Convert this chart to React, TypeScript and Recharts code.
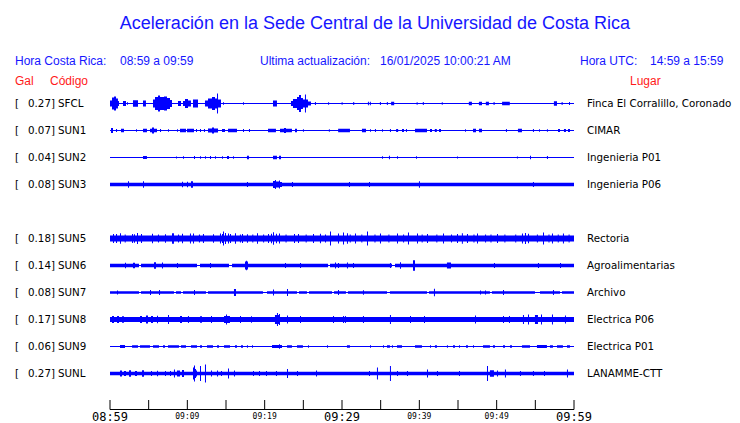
import React from 'react';
import { ComposedChart, Area, XAxis, YAxis } from 'recharts';

// ---------- data ----------
const STATION_CODES = ['SFCL', 'SUN1', 'SUN2', 'SUN3', 'SUN5', 'SUN6', 'SUN7', 'SUN8', 'SUN9', 'SUNL'];
const STATION_SLOTS = [0, 1, 2, 3, 5, 6, 7, 8, 9, 10];
const PEAK_GAL = ['0.27', '0.07', '0.04', '0.08', '0.18', '0.14', '0.08', '0.17', '0.06', '0.27'];
const PLACES = [
  'Finca El Corralillo, Coronado', 'CIMAR', 'Ingenieria P01', 'Ingenieria P06', 'Rectoria',
  'Agroalimentarias', 'Archivo', 'Electrica P06', 'Electrica P01', 'LANAMME-CTT',
];
// noise floor half-amplitude of each trace
const NOISE_FLOOR = [0.5, 0.5, 0.5, 1.7, 3.1, 1.7, 1.2, 2.4, 0.5, 1.7];

// bursts: [start minute, end minute, half amplitude]
type Burst = [number, number, number];
const SFCL: Burst[] = [
  [0, 0.26, 3], [0.26, 0.52, 6], [0.52, 0.78, 7], [0.78, 1.03, 5], [1.03, 1.16, 2.5],
  [1.68, 2.07, 2.5], [2.2, 2.33, 1.2], [2.97, 3.62, 3.2], [4.27, 4.65, 3],
  [5.56, 5.82, 4], [5.82, 6.21, 6.5], [6.21, 6.47, 8], [6.47, 6.98, 6.5], [6.98, 7.37, 7], [7.37, 7.76, 5.5], [7.76, 8.02, 3.5],
  [8.79, 9.18, 2.5], [9.44, 9.7, 2.5], [9.7, 10.09, 4.5], [10.09, 10.47, 3], [10.73, 11.38, 4],
  [12.28, 12.67, 3], [12.67, 13.19, 5], [13.19, 13.58, 6.5], [13.58, 13.84, 5], [13.84, 13.97, 10], [13.97, 14.35, 4],
  [14.61, 14.74, 1.2], [17.2, 17.33, 1.2], [21.08, 21.59, 3],
  [23.4, 23.66, 2.5], [23.66, 24.18, 4.5], [24.18, 24.44, 6.5], [24.44, 24.7, 8.5], [24.7, 24.95, 5.5], [24.95, 25.21, 4], [25.21, 25.34, 9], [25.34, 25.6, 4], [25.6, 25.99, 2],
  [26.5, 26.63, 1.5], [28.2, 28.33, 1.2], [29.95, 30.08, 1.2], [31.45, 31.58, 1.5], [33.35, 33.48, 1.8], [33.6, 33.73, 1.8],
  [34.9, 35.03, 1.5], [35.8, 35.93, 1.5], [36.35, 36.75, 1.8], [39.65, 39.78, 1.2], [40.45, 40.58, 1.5], [42.9, 43.03, 1.2],
  [46.4, 46.8, 1.8], [47.7, 48.1, 1.8], [48.6, 49.0, 1.8], [49.6, 49.73, 1.5], [50.7, 51.7, 1.8], [57.4, 57.8, 2.2],
  [58.4, 58.53, 1.5], [59.35, 59.48, 1.5],
];
const SUN1: Burst[] = [
  [0.13, 0.39, 2.5], [0.78, 0.91, 1.5], [1.42, 1.81, 1.8], [3.36, 3.49, 1.2], [4.27, 4.78, 1.8],
  [5.17, 5.43, 1.8], [5.43, 5.69, 3], [5.69, 6.08, 1.8], [6.47, 6.6, 1.5], [7.5, 7.63, 1.2], [8.66, 8.79, 1.2],
  [9.05, 9.83, 1.8], [9.96, 10.86, 1.8], [11.12, 11.25, 1.5], [11.64, 11.77, 1.5], [12.15, 12.28, 1.5],
  [12.67, 13.19, 2], [13.19, 13.45, 3], [13.45, 13.97, 2], [14.48, 14.87, 1.5], [15.26, 16.42, 1.8],
  [17.2, 17.33, 1.5], [17.97, 18.1, 1.5], [20.43, 21.46, 1.8], [21.98, 22.5, 1.8], [22.5, 22.76, 2.5], [22.76, 23.53, 1.8],
  [23.92, 24.18, 1.8], [24.95, 25.08, 1.2], [28.3, 28.43, 1.2], [29.5, 31.03, 1.8], [32.58, 33.1, 1.8],
  [33.62, 33.75, 1.2], [34.26, 34.39, 1.5], [35.17, 35.3, 1.2], [36.2, 36.33, 1.5], [37.0, 37.26, 1.5],
  [37.76, 38.02, 1.5], [38.27, 38.4, 1.5], [39.44, 40.99, 1.8], [41.38, 41.64, 1.5], [42.0, 42.26, 1.5],
  [42.54, 42.8, 1.5], [45.9, 46.03, 1.2], [46.94, 47.33, 1.8], [47.71, 48.1, 1.8], [51.2, 51.33, 1.5],
  [52.75, 53.27, 1.8], [54.69, 54.82, 1.5], [55.47, 55.6, 1.2], [56.5, 56.63, 1.2], [57.93, 58.19, 1.5],
  [58.7, 58.96, 1.5], [59.22, 59.48, 1.5],
];
const SUN2: Burst[] = [
  [4.27, 4.78, 1.5], [8.53, 8.66, 1], [9.44, 9.57, 1.2], [10.86, 10.99, 1.5], [11.64, 11.77, 1.2],
  [12.28, 12.41, 1.2], [12.93, 13.06, 1.5], [13.58, 13.71, 1.2], [14.48, 14.61, 1.2], [15.13, 15.39, 1.5],
  [15.9, 16.03, 1.2], [17.71, 17.97, 1.8], [21.08, 21.59, 1.8], [21.85, 22.11, 1.8], [35.17, 35.3, 1.2],
  [36.07, 36.2, 1.8], [37.11, 37.24, 1.2], [39.57, 39.7, 1.2], [44.87, 45.0, 1], [52.62, 52.75, 1],
  [54.31, 54.44, 1.8], [56.5, 56.63, 1.5],
];
const SUN3: Burst[] = [
  [2.33, 2.46, 3.2], [4.27, 4.4, 3.2], [9.31, 9.44, 2.8], [9.96, 10.09, 2.8], [10.47, 10.73, 3.2],
  [17.71, 17.84, 2.5], [21.08, 21.33, 3.5], [21.33, 21.46, 4.5], [21.46, 21.85, 3], [21.85, 21.98, 4],
  [21.98, 22.24, 2.5], [23.53, 23.66, 2.5], [30.9, 31.03, 2.5], [33.49, 33.62, 2.5], [39.95, 40.08, 3.2],
  [54.69, 54.82, 2.5],
];
const SUN5: Burst[] = [
  [0.39, 0.52, 4.5], [0.78, 0.91, 4.5], [1.29, 1.42, 5.2], [1.9, 2.03, 4], [2.85, 2.98, 4.5], [3.1, 3.23, 4.3],
  [3.49, 3.62, 5.5], [4.01, 4.14, 4.5], [5.43, 5.56, 4.8], [6.2, 6.33, 4], [7.11, 7.24, 4.3], [8.02, 8.27, 5.2],
  [8.8, 8.93, 4], [9.31, 9.44, 4.8], [10.34, 10.47, 5], [10.73, 10.86, 5], [11.5, 11.63, 4], [12.02, 12.15, 4.5],
  [13.32, 13.45, 4.3], [14.22, 14.35, 5], [14.48, 14.61, 4.5], [14.61, 14.74, 7], [14.87, 15.0, 5.5],
  [15.26, 15.39, 5], [15.52, 15.65, 4.5], [16.16, 16.29, 5.2], [16.8, 16.93, 4], [17.07, 17.2, 4.5],
  [17.71, 17.84, 4.3], [18.4, 18.53, 4], [19.01, 19.14, 5.2], [19.8, 19.93, 4], [20.43, 20.56, 4.5],
  [20.82, 20.95, 4.8], [21.08, 21.21, 6.3], [21.46, 21.59, 4.8], [21.85, 21.98, 5], [22.7, 22.83, 4],
  [23.79, 23.92, 4.5], [24.31, 24.44, 4.5], [25.3, 25.43, 4], [26.25, 26.38, 4.5], [27.15, 27.28, 4.8],
  [27.8, 27.93, 4], [28.45, 28.58, 7], [29.48, 29.61, 5], [30.13, 30.26, 6], [30.64, 30.77, 5.2],
  [31.0, 31.13, 4], [31.68, 31.81, 5], [32.5, 32.63, 4], [33.23, 33.36, 7], [34.2, 34.33, 4], [34.91, 35.04, 5],
  [36.0, 36.13, 4], [37.11, 37.24, 5], [37.9, 38.03, 4], [38.53, 38.66, 6], [39.7, 39.83, 5], [40.3, 40.43, 4],
  [40.99, 41.12, 4.5], [42.2, 42.33, 4], [43.06, 43.19, 5], [44.1, 44.23, 4], [44.87, 45.0, 4.5],
  [45.5, 45.63, 5.2], [46.16, 46.29, 4.5], [47.0, 47.13, 4], [47.46, 47.59, 5], [48.5, 48.63, 4],
  [49.2, 49.33, 4], [50.04, 50.17, 4.5], [51.0, 51.13, 4], [52.4, 52.53, 4], [53.27, 53.4, 5],
  [53.66, 53.79, 5.5], [54.05, 54.18, 4.8], [55.2, 55.33, 4], [55.99, 56.12, 6], [56.7, 56.83, 4],
  [57.15, 57.28, 5], [57.9, 58.03, 4], [58.57, 58.7, 5], [59.3, 59.43, 4],
];
const SUN6: Burst[] = [
  [3.75, 4.01, 0.6], [11.25, 11.64, 0.6], [15.39, 15.78, 0.6], [28.2, 28.45, 0.6], [36.46, 36.85, 0.6],
  [1.94, 2.07, 2.8], [2.97, 3.23, 2.8], [5.69, 5.95, 3.3], [6.72, 6.85, 3], [8.66, 8.79, 2.5],
  [12.93, 13.06, 2.5], [17.46, 17.84, 4], [17.59, 17.71, 4.8], [22.63, 22.76, 2.5], [24.57, 24.7, 2.5],
  [29.1, 29.23, 3], [29.48, 29.61, 2.5], [30.64, 30.77, 3], [31.42, 31.55, 2.5], [36.2, 36.33, 2.5],
  [37.5, 37.63, 3.3], [39.18, 39.44, 5.3], [43.57, 44.09, 3], [49.65, 49.78, 2.5], [55.34, 55.47, 2.5],
  [58.19, 58.32, 2.5],
];
const SUN7: Burst[] = [
  [3.75, 4.01, 0.5], [8.27, 8.53, 0.5], [9.18, 9.44, 0.5], [12.41, 12.67, 0.5], [19.78, 20.3, 0.5],
  [24.18, 24.44, 0.5], [25.47, 25.73, 0.5], [28.71, 28.97, 0.5], [30.51, 30.77, 0.5], [35.82, 36.2, 0.5],
  [40.99, 41.25, 0.5], [49.13, 49.39, 0.5], [54.95, 55.6, 0.5], [58.19, 58.45, 0.5],
  [0.91, 1.04, 2], [5.17, 5.3, 2.5], [6.34, 6.47, 2.5], [10.86, 10.99, 2.5], [16.03, 16.29, 3.5],
  [21.08, 21.21, 3], [22.89, 23.02, 3.5], [29.48, 29.61, 2.5], [32.71, 32.84, 2.3], [41.89, 42.02, 3.8],
  [47.84, 47.97, 2], [48.49, 48.62, 2], [50.82, 50.95, 2.5], [57.28, 57.41, 2.5],
];
const SUN8: Burst[] = [
  [0.26, 0.52, 3.5], [0.91, 1.16, 3.5], [1.55, 1.81, 3.2], [3.88, 4.14, 3.5], [4.65, 4.91, 4],
  [5.3, 5.56, 3.5], [6.08, 6.21, 3.8], [7.5, 7.63, 4.5], [9.05, 9.31, 3.5], [10.08, 10.21, 3.5],
  [11.64, 11.9, 3.2], [13.06, 13.19, 3.5], [14.74, 15.52, 3.5], [15.0, 15.13, 5], [16.81, 16.94, 3.5],
  [18.23, 18.36, 3.2], [21.33, 21.98, 4.5], [21.59, 21.72, 6.5], [21.85, 21.98, 5.5], [22.89, 23.02, 4],
  [24.57, 24.7, 3.5], [28.84, 28.97, 3.5], [30.13, 30.26, 3.5], [30.38, 30.51, 3.5], [32.71, 32.84, 3.5],
  [36.2, 36.33, 4.5], [38.79, 38.92, 3.5], [40.6, 40.73, 3.5], [47.2, 47.33, 4], [50.82, 50.95, 3.5],
  [51.59, 51.72, 3.5], [53.4, 53.53, 4.5], [54.05, 54.18, 5], [54.95, 55.34, 4.5], [55.73, 55.86, 5],
  [57.15, 57.28, 5], [58.83, 58.96, 4],
];
const SUN9: Burst[] = [
  [1.29, 1.94, 1.5], [2.85, 3.62, 1.2], [3.88, 5.17, 1.2], [5.56, 6.34, 1.2], [6.85, 7.11, 1.2],
  [7.5, 8.92, 1.2], [9.18, 9.83, 1.2], [10.47, 11.25, 1.2], [11.64, 11.9, 1.2], [12.54, 13.32, 1.2],
  [13.84, 14.1, 1.2], [14.74, 15.52, 1.2], [16.16, 16.42, 1.2], [16.94, 17.2, 1.2], [17.71, 17.84, 1.2],
  [18.36, 18.49, 1.2], [20.95, 22.24, 1.5], [21.85, 21.98, 2.2], [22.89, 23.53, 1.2], [24.18, 24.95, 1.2],
  [25.6, 25.73, 1.2], [28.06, 28.19, 1.2], [30.64, 31.03, 1.2], [33.62, 33.75, 1.2], [35.3, 35.43, 1.2],
  [35.82, 36.2, 1.2], [36.46, 36.59, 1.2], [37.11, 37.76, 1.2], [39.44, 40.34, 1.3], [41.38, 41.51, 1.2],
  [42.02, 42.28, 1.2], [43.57, 43.7, 1.2], [44.35, 44.61, 1.2], [45.13, 45.26, 1.2], [46.03, 46.29, 1.2],
  [46.94, 47.07, 1.2], [48.23, 49.13, 1.3], [49.52, 49.78, 1.2], [50.82, 51.08, 1.2], [51.72, 51.98, 1.2],
  [53.27, 54.31, 1.3], [55.21, 56.5, 1.4], [56.89, 57.28, 1.2], [57.8, 58.57, 1.2], [59.09, 59.48, 1.2],
];
const SUNL: Burst[] = [
  [1.29, 1.55, 3], [1.81, 2.07, 2.5], [2.46, 2.72, 3.3], [3.23, 3.49, 2.5], [4.14, 4.4, 3.3],
  [5.3, 5.43, 2.5], [6.08, 6.21, 2.8], [7.11, 7.24, 2.5], [7.76, 7.89, 2.5], [8.27, 8.4, 4],
  [8.66, 9.05, 3], [9.31, 9.57, 3.5], [10.73, 10.86, 6], [10.86, 10.99, 8], [10.99, 11.12, 4.5],
  [11.12, 11.25, 3], [11.64, 11.77, 7.5], [12.28, 12.41, 9], [13.06, 13.19, 3], [13.84, 13.97, 3],
  [14.35, 14.48, 2.5], [15.26, 15.39, 5], [16.03, 16.16, 3], [18.49, 18.62, 2.5], [19.27, 19.4, 2.5],
  [20.17, 20.3, 2.5], [21.46, 21.59, 2.5], [22.89, 23.02, 4.5], [24.18, 24.31, 2.5], [26.64, 26.77, 3],
  [33.49, 33.62, 2.5], [34.52, 34.65, 6], [36.2, 36.33, 7.5], [37.11, 37.24, 2.5], [38.4, 38.53, 2.5],
  [40.99, 41.12, 4], [42.28, 42.41, 2.5], [45.13, 45.26, 2.5], [48.75, 48.88, 7.5], [49.13, 49.65, 3.2],
  [50.04, 50.17, 3], [51.07, 51.2, 4], [53.01, 53.14, 2.5], [54.69, 54.82, 2.5], [56.12, 56.25, 2.5],
  [59.09, 59.22, 4],
];
const BURSTS: Burst[][] = [SFCL, SUN1, SUN2, SUN3, SUN5, SUN6, SUN7, SUN8, SUN9, SUNL];

const TIME_TICKS = [0, 5, 10, 15, 20, 25, 30, 35, 40, 45, 50, 55, 60];
const TIME_LABELS = ['08:59', '', '09:09', '', '09:19', '', '09:29', '', '09:39', '', '09:49', '', '09:59'];
const MAJOR_LABELS = ['08:59', '09:29', '09:59'];

// ---------- layout constants ----------
const ROW_PITCH = 27;
const N_SLOTS = 11;
const rowValue = (slot: number) => (N_SLOTS - 1 - slot) * ROW_PITCH;
const ROW_VALUES = STATION_SLOTS.map(rowValue);
const BLUE = '#1616ff';
const RED = '#ff1a1a';
const TRACE = '#0000ff';

// ---------- build table ----------
function ampAt(i: number, t: number): number {
  let a = -1;
  for (const [t0, t1, v] of BURSTS[i]) {
    if (t >= t0 && t < t1 && v > a) a = v;
  }
  return a < 0 ? NOISE_FLOOR[i] : a;
}
const breakSet = new Set<number>([0, 60]);
BURSTS.forEach((list) => list.forEach(([t0, t1]) => { breakSet.add(t0); breakSet.add(t1); }));
const BREAKS = Array.from(breakSet).sort((a, b) => a - b);
const TABLE = BREAKS.map((t) => {
  const row: Record<string, any> = { t };
  STATION_CODES.forEach((code, i) => {
    const a = ampAt(i, t >= 60 ? 59.999 : t);
    const c = ROW_VALUES[i];
    row[code] = [c - a, c + a];
  });
  return row;
});

const LeftTick = (props: any) => {
  const { y, payload } = props;
  const i = ROW_VALUES.indexOf(payload.value);
  if (i < 0) return <g />;
  return (
    <g fontFamily="DejaVu Sans" fontSize={10.3} fill="#000">
      <text x={15} y={y} dy={3.5}>[</text>
      <text x={55} y={y} dy={3.5} textAnchor="end">{PEAK_GAL[i]}]</text>
      <text x={58} y={y} dy={3.5}>{STATION_CODES[i]}</text>
    </g>
  );
};

const RightTick = (props: any) => {
  const { x, y, payload } = props;
  const i = ROW_VALUES.indexOf(payload.value);
  if (i < 0) return <g />;
  return (
    <text x={x + 13} y={y} dy={3.5} fontFamily="DejaVu Sans" fontSize={10.3} fill="#000">{PLACES[i]}</text>
  );
};

const TimeTick = (props: any) => {
  const { x, y, payload } = props;
  const i = TIME_TICKS.indexOf(payload.value);
  const label = TIME_LABELS[i] || '';
  const major = MAJOR_LABELS.includes(label);
  return (
    <g>
      <line x1={x} x2={x} y1={y - 9.5} y2={y} stroke="#000" strokeWidth={1} />
      {label && (
        <text
          x={x}
          y={y + (major ? 11.5 : 9)}
          textAnchor="middle"
          fontFamily="DejaVu Sans Mono"
          fontSize={major ? 12 : 8}
          fill="#000"
        >
          {label}
        </text>
      )}
    </g>
  );
};

export default function App() {
  return (
    <div style={{ position: 'absolute', left: 0, top: 0, width: 740, height: 423, background: '#fff' }}>
      <ComposedChart
        width={740}
        height={423}
        data={TABLE}
        margin={{ top: 80, right: 0, bottom: 0, left: 0 }}
      >
        <XAxis
          dataKey="t"
          type="number"
          domain={[0, 60]}
          ticks={TIME_TICKS}
          allowDataOverflow
          interval={0}
          height={13.5}
          axisLine={{ stroke: '#000', strokeWidth: 1 }}
          tickLine={false}
          tickSize={0}
          tickMargin={0}
          tick={<TimeTick />}
        />
        <YAxis
          yAxisId="L"
          type="number"
          domain={[-36, 293.5]}
          allowDataOverflow
          ticks={ROW_VALUES}
          interval={0}
          width={110}
          axisLine={false}
          tickLine={false}
          tick={<LeftTick />}
        />
        <YAxis
          yAxisId="R"
          orientation="right"
          type="number"
          domain={[-36, 293.5]}
          allowDataOverflow
          ticks={ROW_VALUES}
          interval={0}
          width={166}
          axisLine={false}
          tickLine={false}
          tickSize={0}
          tickMargin={0}
          tick={<RightTick />}
        />
        {STATION_CODES.map((code) => (
          <Area
            key={code}
            yAxisId="L"
            dataKey={code}
            type="stepAfter"
            stroke="none"
            fill={TRACE}
            fillOpacity={1}
            dot={false}
            activeDot={false}
            isAnimationActive={false}
          />
        ))}
      </ComposedChart>
      <svg
        width={740}
        height={100}
        style={{ position: 'absolute', left: 0, top: 0, pointerEvents: 'none' }}
      >
        <text x={375} y={29} textAnchor="middle" fontFamily="Liberation Sans" fontSize={18} fill={BLUE}>
          Aceleración en la Sede Central de la Universidad de Costa Rica
        </text>
        <g fontFamily="Liberation Sans" fontSize={12} fill={BLUE}>
          <text x={15} y={65}>Hora Costa Rica:</text>
          <text x={120} y={65}>08:59 a 09:59</text>
          <text x={260} y={65}>Ultima actualización:</text>
          <text x={380} y={65}>16/01/2025 10:00:21 AM</text>
          <text x={580} y={65}>Hora UTC:</text>
          <text x={650} y={65}>14:59 a 15:59</text>
        </g>
        <g fontFamily="Liberation Sans" fontSize={12} fill={RED}>
          <text x={15} y={85}>Gal</text>
          <text x={50} y={85}>Código</text>
          <text x={630} y={85}>Lugar</text>
        </g>
      </svg>
    </div>
  );
}
